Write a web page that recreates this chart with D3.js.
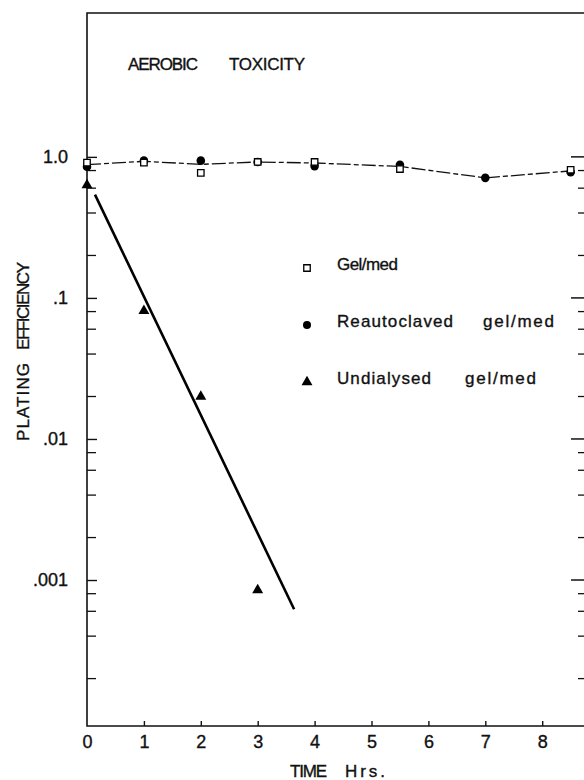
<!DOCTYPE html>
<html>
<head>
<meta charset="utf-8">
<script src="https://cdn.jsdelivr.net/npm/d3@7"></script>
<style>
  html, body { margin: 0; padding: 0; background: #fff; }
  svg { display: block; }
  text { font-family: "Liberation Sans", Arial, sans-serif; fill: #111; stroke: #111; stroke-width: 0.35px; }
</style>
</head>
<body>
<svg id="chart" width="584" height="780"></svg>
<script>
// Time (hours) and plating efficiency for each treatment
const gelTimes = [0, 1, 2, 3, 4, 5.5, 8.5];
const gelValues = [0.91, 0.91, 0.77, 0.92, 0.92, 0.82, 0.81];

const reautoTimes = [0, 1, 2, 3, 4, 5.5, 7, 8.5];
const reautoValues = [0.85, 0.94, 0.94, 0.92, 0.86, 0.88, 0.71, 0.78];

const undialTimes = [0, 1, 2, 3];
const undialValues = [0.63, 0.081, 0.020, 0.00085];

// dashed mean curve through the control series
const meanTimes = [0, 1, 2, 3, 4, 5.5, 7, 8.5];
const meanValues = [0.88, 0.93, 0.885, 0.92, 0.905, 0.855, 0.71, 0.795];

// fitted kill line for the undialysed series
const fitTimes = [0.14, 3.64];
const fitValues = [0.54, 0.00062];

const xTicks = [0, 1, 2, 3, 4, 5, 6, 7, 8];
const yMajor = [1, 0.1, 0.01, 0.001];
const yMajorLabels = ["1.0", ".1", ".01", ".001"];
const yMinor = [0.8, 0.6, 0.4, 0.2, 0.08, 0.06, 0.04, 0.02,
                0.008, 0.006, 0.004, 0.002, 0.0008, 0.0006, 0.0004, 0.0002];

const legendNames = ["Gel/med", "Reautoclaved  gel/med", "Undialysed  gel/med"];

const svg = d3.select("#chart");

const x = d3.scaleLinear().domain([0, 8.84]).range([87, 590]);
const y = d3.scaleLog().domain([Math.pow(10, -4.035), Math.pow(10, 1.02)]).range([726, 13]);

const [x0, x1] = x.range();
const [yb, yt] = y.range();

// frame
svg.append("path")
  .attr("d", `M${x1},${yt}H${x0}V${yb}H${x1}V${yt}`)
  .attr("fill", "none").attr("stroke", "#111").attr("stroke-width", 1.6);

// bottom axis (ticks point inward)
const xAxis = d3.axisBottom(x).tickValues(xTicks).tickSize(0).tickPadding(0).tickFormat(d3.format("d"));
const gx = svg.append("g").attr("transform", `translate(0,${yb})`).call(xAxis);
gx.select(".domain").remove();
gx.selectAll(".tick text").attr("y", 9).attr("dy", "0.71em")
  .style("font-size", "18px").style("font-family", "Liberation Sans, Arial, sans-serif")
  .attr("fill", "#111").attr("stroke", "#111").attr("stroke-width", 0.35);
gx.selectAll(".tick").filter(d => d > 0).append("line")
  .attr("y1", 0).attr("y2", -5).attr("stroke", "#111").attr("stroke-width", 1.4);

// left axis
const yAxisL = d3.axisLeft(y).tickValues(yMajor).tickSize(0).tickPadding(0)
  .tickFormat((d, i) => yMajorLabels[i]);
const gy = svg.append("g").attr("transform", `translate(${x0},0)`).call(yAxisL);
gy.select(".domain").remove();
gy.selectAll(".tick text").attr("x", -19)
  .style("font-size", "18px").style("font-family", "Liberation Sans, Arial, sans-serif")
  .attr("fill", "#111").attr("stroke", "#111").attr("stroke-width", 0.35);
gy.selectAll(".tick").append("line").attr("x1", 0).attr("x2", 10)
  .attr("stroke", "#111").attr("stroke-width", 1.4);
svg.append("g").selectAll("line").data(yMinor).join("line")
  .attr("x1", x0).attr("x2", x0 + 9)
  .attr("y1", d => y(d)).attr("y2", d => y(d))
  .attr("stroke", "#111").attr("stroke-width", 1.3);

// right axis ticks (inward)
svg.append("g").selectAll("line").data(yMajor).join("line")
  .attr("x1", x1).attr("x2", x1 - 19)
  .attr("y1", d => y(d)).attr("y2", d => y(d))
  .attr("stroke", "#111").attr("stroke-width", 1.5);
svg.append("g").selectAll("line").data(yMinor).join("line")
  .attr("x1", x1).attr("x2", x1 - 12)
  .attr("y1", d => y(d)).attr("y2", d => y(d))
  .attr("stroke", "#111").attr("stroke-width", 1.3);

// title
svg.append("text").attr("x", 128).attr("y", 70).attr("textLength", 70).attr("lengthAdjust", "spacing")
  .style("font-size", "17px").text("AEROBIC");
svg.append("text").attr("x", 229).attr("y", 70).attr("textLength", 76).attr("lengthAdjust", "spacing")
  .style("font-size", "17px").text("TOXICITY");

// x axis title
svg.append("text").attr("x", 290).attr("y", 777).attr("textLength", 37).attr("lengthAdjust", "spacing")
  .style("font-size", "17px").text("TIME");
svg.append("text").attr("x", 345).attr("y", 777).attr("textLength", 40).attr("lengthAdjust", "spacing")
  .style("font-size", "17px").text("Hrs.");

// y axis title
const yt1 = svg.append("g").attr("transform", "translate(29,0) rotate(-90)");
yt1.append("text").attr("x", -441).attr("y", 0).attr("textLength", 78).attr("lengthAdjust", "spacing")
  .style("font-size", "17px").text("PLATING");
yt1.append("text").attr("x", -350).attr("y", 0).attr("textLength", 88).attr("lengthAdjust", "spacing")
  .style("font-size", "17px").text("EFFICIENCY");

// dashed mean line
const line = d3.line().x(d => x(d[0])).y(d => y(d[1]));
svg.append("path")
  .attr("d", line(d3.zip(meanTimes, meanValues)))
  .attr("fill", "none").attr("stroke", "#111").attr("stroke-width", 1.3)
  .attr("stroke-dasharray", "14,3,5,3");

// fitted line
svg.append("path")
  .attr("d", line(d3.zip(fitTimes, fitValues)))
  .attr("fill", "none").attr("stroke", "#000").attr("stroke-width", 2.6);

// marker shapes
const sq = d3.symbol().type(d3.symbolSquare).size(42);
const tri = d3.symbol().type(d3.symbolTriangle).size(52);

svg.append("g").selectAll("circle").data(d3.zip(reautoTimes, reautoValues)).join("circle")
  .attr("cx", d => x(d[0])).attr("cy", d => y(d[1])).attr("r", 4.3).attr("fill", "#000");

svg.append("g").selectAll("path").data(d3.zip(gelTimes, gelValues)).join("path")
  .attr("transform", d => `translate(${x(d[0])},${y(d[1])})`)
  .attr("d", sq).attr("fill", "#fff").attr("stroke", "#000").attr("stroke-width", 1.3);

svg.append("g").selectAll("path").data(d3.zip(undialTimes, undialValues)).join("path")
  .attr("transform", d => `translate(${x(d[0])},${y(d[1])})`)
  .attr("d", tri).attr("fill", "#000");

// legend
const legendY = [268, 325, 382];
const legendW = [[61], [116, 71], [94, 71]];
const legendGap = [0, 30, 34];
const lg = svg.append("g");
lg.append("path").attr("transform", `translate(307,${legendY[0]})`).attr("d", sq)
  .attr("fill", "#fff").attr("stroke", "#000").attr("stroke-width", 1.3);
lg.append("circle").attr("cx", 307).attr("cy", legendY[1]).attr("r", 4).attr("fill", "#000");
lg.append("path").attr("transform", `translate(307,${legendY[2]})`).attr("d", tri).attr("fill", "#000");

legendNames.forEach((name, i) => {
  const words = name.split(/\s+/);
  let xs = 337;
  words.forEach((w, j) => {
    lg.append("text").attr("x", xs).attr("y", legendY[i] + 2)
      .attr("textLength", legendW[i][j]).attr("lengthAdjust", "spacing")
      .style("font-size", "17px").text(w);
    xs += legendW[i][j] + legendGap[i];
  });
});
</script>
</body>
</html>
